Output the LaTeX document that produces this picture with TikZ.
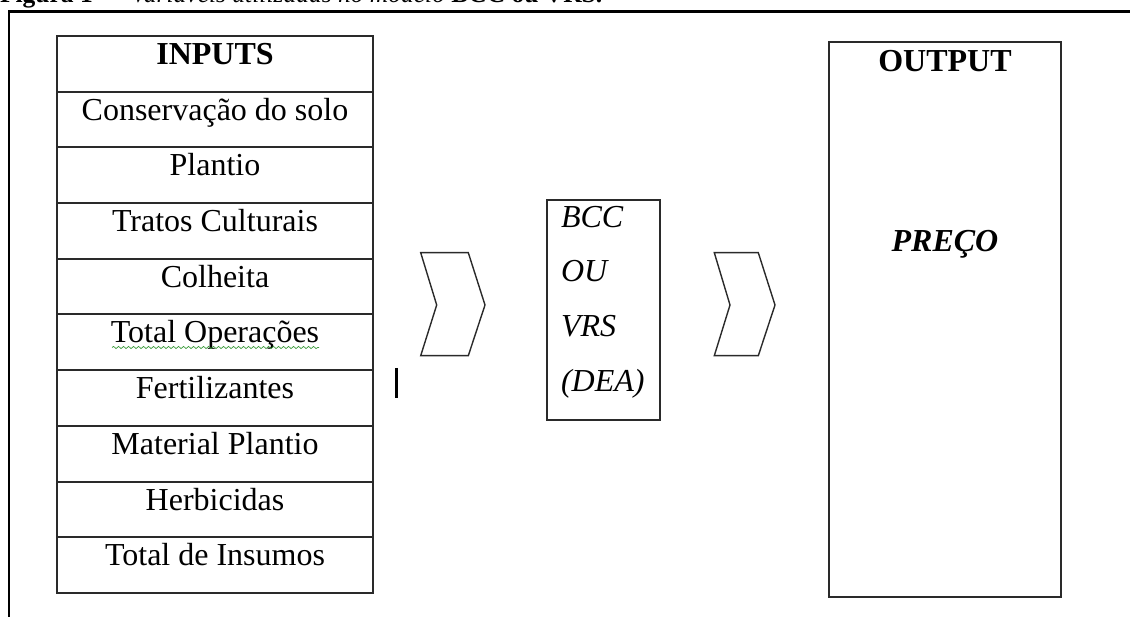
\documentclass[tikz,border=0pt]{standalone}
\usepackage{fontspec}
\setmainfont{Liberation Serif}
\usetikzlibrary{decorations.pathmorphing}
\definecolor{linegray}{HTML}{2A2A2A}
\definecolor{squig}{HTML}{3C9A3C}
\begin{document}
\begin{tikzpicture}[x=1pt,y=-1pt,
  every node/.style={font=\fontsize{32}{38}\selectfont, inner sep=0pt, outer sep=0pt},
  row/.style={draw=linegray, line width=2pt, minimum width=316pt, text height=28.5pt, text depth=27.2pt, anchor=north},
  box/.style={draw=linegray, line width=2pt, anchor=north west},
  chev/.style={draw=linegray, line width=1.4pt, line join=miter},
  frame/.style={draw=black, line width=2.4pt}]
\useasboundingbox (0,0) rectangle (1130,617);
\clip (0,0) rectangle (1130,617);
% caption (clipped at top)
\node[anchor=base west, font=\fontsize{25.5}{30}\selectfont] (cap) at (0,2.5) {\textbf{Figura 1 —} \textit{Variáveis utilizadas no modelo} \textbf{BCC ou VRS.}};
% outer frame
\coordinate (fbl) at (8.7,620);
\coordinate (ftl) at (8.7,11.7);
\coordinate (ftr) at (1132,11.7);
\draw[frame] (fbl) -- (ftl) -- (ftr);
% inputs table
\node[row] (r0) at (215,36) {\textbf{INPUTS}};
\node[row] (r1) at (r0.south) {Conservação do solo};
\node[row] (r2) at (r1.south) {Plantio};
\node[row] (r3) at (r2.south) {Tratos Culturais};
\node[row] (r4) at (r3.south) {Colheita};
\node[row] (r5) at (r4.south) {Total Operações};
\node[row] (r6) at (r5.south) {Fertilizantes};
\node[row] (r7) at (r6.south) {Material Plantio};
\node[row] (r8) at (r7.south) {Herbicidas};
\node[row] (r9) at (r8.south) {Total de Insumos};
% spell-check squiggle
\coordinate (sqa) at (112,347.5);
\coordinate (sqb) at (319,347.5);
\draw[squig, line width=0.7pt, decorate, decoration={snake, segment length=5pt, amplitude=1.1pt}] (sqa) -- (sqb);
% cursor mark
\coordinate (cura) at (396,368);
\coordinate (curb) at (396,398);
\draw[black, line width=3pt] (cura) -- (curb);
% chevrons
\draw[chev] (420.7,252.7) -- (468.3,252.7) -- (485,305) -- (468.3,355.7) -- (420.7,355.7) -- (436.7,305) -- cycle;
\draw[chev] (714.3,252.7) -- (758.3,252.7) -- (775,305) -- (758.3,355.7) -- (714.3,355.7) -- (730,305) -- cycle;
% middle box
\node[box, minimum width=113pt, minimum height=220pt] (mid) at (547,200) {};
\node[anchor=base west] (m1) at (561,228) {\textit{BCC}};
\node[anchor=base west] (m2) at (561,282) {\textit{OU}};
\node[anchor=base west] (m3) at (561,337) {\textit{VRS}};
\node[anchor=base west] (m4) at (561,392) {\textit{(DEA)}};
% output box
\node[box, minimum width=232pt, minimum height=555pt] (out) at (829,42) {};
\node[anchor=base] (o1) at (945,72) {\textbf{OUTPUT}};
\node[anchor=base] (o2) at (945,252) {\textbf{\textit{PREÇO}}};
\end{tikzpicture}
\end{document}
